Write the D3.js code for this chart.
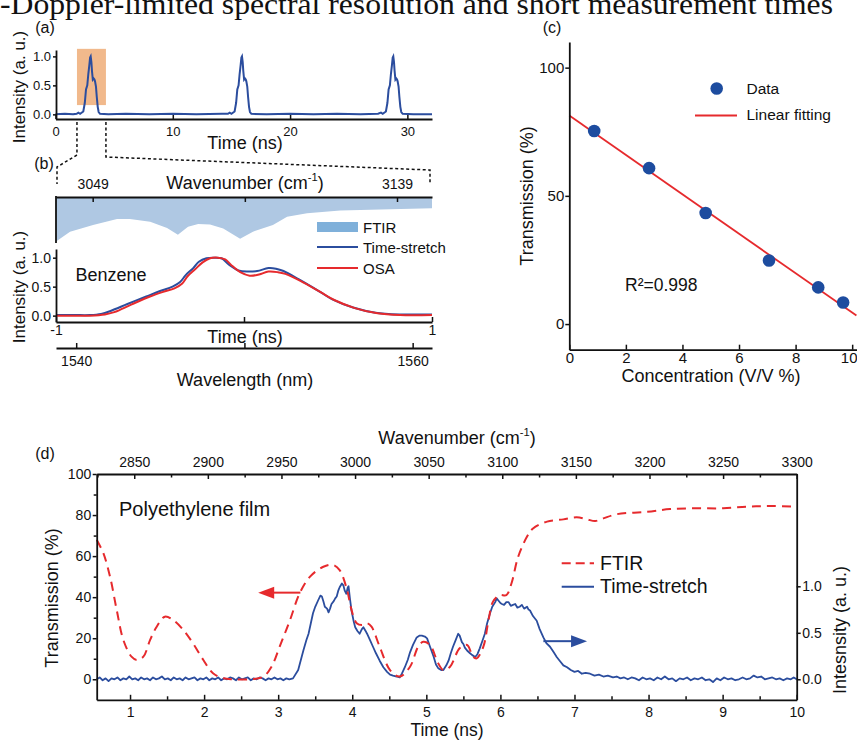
<!DOCTYPE html>
<html>
<head>
<meta charset="utf-8">
<script src="https://cdn.jsdelivr.net/npm/d3@7"></script>
<style>
  body { margin: 0; background: #fff; }
  svg { display: block; font-family: "Liberation Sans", Arial, sans-serif; }
</style>
</head>
<body>
<svg id="fig" width="857" height="740"></svg>
<script>
// ---------------- data ----------------
// (a) pulse train: [time (ns), intensity]
const pulseTrain = [
  [0,0.0],[0.8,0.01],[1.5,0.0],[1.8,0.01],[1.95,0.03],[2.1,0.01],[2.37,0.05],[2.5,0.2],[2.6,0.43],
  [2.71,0.5],[2.8,0.7],[2.88,0.84],[2.95,0.98],[3.0,1.0],[3.06,0.9],[3.11,0.75],[3.18,0.6],[3.25,0.62],
  [3.32,0.6],[3.37,0.57],[3.45,0.48],[3.52,0.3],[3.6,0.13],[3.68,0.04],[3.8,0.01],[4.5,0.0],[6,0.01],
  [8,0.0],[10,0.01],[12,0.0],[14.2,0.01],[14.7,0.01],[14.85,0.03],[15.0,0.01],[15.27,0.05],[15.4,0.2],
  [15.5,0.43],[15.61,0.5],[15.7,0.7],[15.78,0.84],[15.85,0.98],[15.9,1.0],[15.96,0.9],[16.01,0.75],
  [16.08,0.6],[16.15,0.62],[16.22,0.6],[16.27,0.57],[16.35,0.48],[16.42,0.3],[16.5,0.13],[16.58,0.04],
  [16.7,0.01],[18,0.0],[20,0.01],[22,0.0],[24,0.01],[26,0.0],[27.5,0.01],[27.75,0.03],[27.9,0.01],
  [28.17,0.05],[28.3,0.2],[28.4,0.43],[28.51,0.5],[28.6,0.7],[28.68,0.84],[28.75,0.98],[28.8,1.0],
  [28.86,0.9],[28.91,0.75],[28.98,0.6],[29.05,0.62],[29.12,0.6],[29.17,0.57],[29.25,0.48],[29.32,0.3],
  [29.4,0.13],[29.48,0.04],[29.6,0.01],[30.5,0.0],[32.1,0.0]
];
const zoomWindow = [1.83, 4.3];          // ns, highlighted pulse window
const zoomLevels = [0.16, 1.13];         // intensity extent of the highlight

// (b) FTIR absorption band of benzene: [wavenumber (cm-1), level]
const benzeneFTIR = [
  [3038.15,0.01],[3042.3,0.23],[3049.1,0.38],[3056.2,0.51],[3060.0,0.51],[3066.0,0.45],[3071.0,0.31],
  [3074.2,0.16],[3077.2,0.34],[3080.2,0.40],[3083.7,0.39],[3087.6,0.30],[3092.6,0.07],[3096.4,0.23],
  [3102.3,0.38],[3106.5,0.56],[3112.4,0.64],[3122.2,0.70],[3137.0,0.73],[3149.35,0.75]
];
const wavenumberTicksB = [3049, 3094, 3139];
const wavelengthTicksB = [1540, 1550, 1560];

// (b) benzene spectra: [time (ns), intensity]
const benzeneTimeStretch = [
  [-1,0.01],[-0.9,0.01],[-0.82,0.01],[-0.76,0.03],[-0.71,0.08],[-0.62,0.2],[-0.52,0.33],[-0.45,0.42],
  [-0.38,0.5],[-0.34,0.58],[-0.31,0.7],[-0.27,0.82],[-0.24,0.93],[-0.2,0.99],[-0.16,1.0],[-0.12,0.99],
  [-0.08,0.88],[-0.03,0.78],[0.02,0.76],[0.07,0.77],[0.13,0.82],[0.17,0.81],[0.21,0.77],[0.29,0.63],
  [0.4,0.42],[0.47,0.28],[0.58,0.14],[0.7,0.05],[0.83,0.02],[0.92,0.02],[1,0.02]
];
const benzeneOSA = [
  [-1,0.0],[-0.82,0.0],[-0.74,0.02],[-0.69,0.06],[-0.6,0.19],[-0.5,0.33],[-0.43,0.41],[-0.37,0.47],
  [-0.33,0.55],[-0.3,0.68],[-0.26,0.8],[-0.22,0.92],[-0.18,0.99],[-0.14,1.0],[-0.1,0.97],[-0.07,0.88],
  [-0.02,0.75],[0.03,0.69],[0.08,0.71],[0.13,0.76],[0.18,0.75],[0.22,0.72],[0.3,0.6],[0.41,0.4],
  [0.48,0.27],[0.59,0.13],[0.71,0.04],[0.83,0.01],[1,0.01]
];

// (c) transmission vs. concentration
const concentration = [0.88, 2.82, 4.82, 7.06, 8.80, 9.68];
const transmission  = [75.3, 60.8, 43.3, 24.8, 14.3, 8.4];
const fitConcentration = [0, 10.15];
const fitTransmission  = [81.3, 3.3];

// (d) polyethylene film: FTIR transmission [time (ns), %]
const polyFTIR = [
  [0.55,68],[0.64,61.4],[0.73,50],[0.82,33.8],[0.91,19.1],[1.02,11],[1.09,9.4],[1.18,11],[1.27,19.1],
  [1.36,25.6],[1.47,30.5],[1.58,28.9],[1.72,24],[1.85,17.5],[1.99,9.4],[2.12,2.9],[2.26,0.5],[2.39,0],
  [2.62,0],[2.8,1.3],[2.91,6.1],[3.02,15.9],[3.16,28.9],[3.29,41.9],[3.43,50],[3.61,54.8],[3.74,55.7],
  [3.83,53.2],[3.93,43.5],[3.99,33.8],[4.06,27.3],[4.13,26.4],[4.2,27.3],[4.26,25.6],[4.37,15.9],
  [4.51,4.5],[4.64,1.3],[4.78,6.1],[4.89,15.9],[4.96,18.3],[5.05,16.7],[5.16,7.8],[5.23,4.5],[5.32,6.1],
  [5.45,15.1],[5.55,16.7],[5.63,11],[5.68,10.2],[5.77,15.9],[5.84,28.9],[5.9,37.8],[5.99,41],[6.08,41],
  [6.15,46.8],[6.24,59.7],[6.36,69.5],[6.44,73.5],[6.63,76.8],[6.85,77.9],[7.03,78.9],[7.17,77.9],
  [7.28,77.1],[7.39,78.4],[7.57,80.4],[7.98,81.6],[8.29,82.9],[8.65,83.3],[9.01,83.3],[9.33,84.1],
  [9.64,84.4],[10.0,84.1]
];

// (d) polyethylene film: time-stretch intensity [time (ns), a.u.]
const polyTimeStretch = [
  [0.55,0.0],[0.59,0.02],[0.63,-0.01],[0.67,0.01],[0.71,-0.02],[0.75,0.01],[0.79,0.0],[0.83,0.02],
  [0.87,-0.01],[0.91,0.01],[0.95,0.0],[0.99,0.03],[1.03,0.0],[1.07,0.01],[1.11,-0.01],[1.15,0.02],
  [1.19,0.0],[1.23,0.01],[1.27,-0.01],[1.31,0.02],[1.35,0.0],[1.39,0.01],[1.43,0.03],[1.47,0.0],
  [1.51,0.01],[1.55,-0.01],[1.59,0.02],[1.63,0.0],[1.67,0.01],[1.71,-0.01],[1.75,0.02],[1.79,0.0],
  [1.83,0.01],[1.87,0.02],[1.91,-0.01],[1.95,0.01],[1.99,0.0],[2.03,0.02],[2.07,-0.01],[2.11,0.01],
  [2.15,0.0],[2.19,0.02],[2.23,-0.01],[2.27,0.01],[2.31,0.0],[2.35,0.02],[2.39,0.01],[2.43,-0.01],
  [2.47,0.02],[2.51,0.0],[2.55,0.01],[2.59,0.02],[2.63,-0.01],[2.67,0.01],[2.71,0.0],[2.75,0.02],
  [2.79,0.01],[2.83,-0.01],[2.87,0.01],[2.91,0.0],[2.95,0.02],[2.99,0.0],[3.03,0.01],[3.07,-0.01],
  [3.11,0.01],[3.15,0.0],[3.2,0.01],[3.27,0.10],[3.34,0.31],[3.38,0.42],[3.41,0.49],[3.44,0.6],
  [3.47,0.71],[3.5,0.78],[3.54,0.85],[3.57,0.9],[3.59,0.89],[3.61,0.84],[3.63,0.78],[3.66,0.76],
  [3.68,0.72],[3.7,0.76],[3.72,0.81],[3.75,0.84],[3.77,0.87],[3.79,0.89],[3.81,0.95],[3.83,0.99],
  [3.86,1.03],[3.88,1.01],[3.9,0.95],[3.92,0.92],[3.94,0.99],[3.95,1.0],[3.97,0.86],[3.99,0.74],
  [4.02,0.62],[4.04,0.56],[4.07,0.52],[4.1,0.49],[4.13,0.54],[4.15,0.56],[4.18,0.52],[4.2,0.49],
  [4.24,0.42],[4.28,0.35],[4.32,0.28],[4.37,0.2],[4.42,0.13],[4.47,0.08],[4.51,0.05],[4.55,0.04],
  [4.6,0.03],[4.64,0.02],[4.67,0.06],[4.71,0.13],[4.75,0.21],[4.78,0.29],[4.82,0.37],[4.87,0.45],
  [4.91,0.47],[4.94,0.47],[4.98,0.46],[5.01,0.44],[5.05,0.35],[5.1,0.24],[5.13,0.16],[5.16,0.12],
  [5.2,0.1],[5.23,0.1],[5.27,0.15],[5.3,0.2],[5.33,0.28],[5.36,0.35],[5.4,0.43],[5.43,0.49],
  [5.45,0.47],[5.48,0.4],[5.5,0.38],[5.52,0.34],[5.55,0.31],[5.59,0.28],[5.62,0.26],[5.66,0.24],
  [5.69,0.27],[5.72,0.33],[5.76,0.42],[5.79,0.49],[5.82,0.6],[5.86,0.71],[5.89,0.78],[5.93,0.83],
  [5.95,0.87],[5.97,0.85],[6.0,0.82],[6.02,0.81],[6.05,0.8],[6.08,0.83],[6.11,0.83],[6.14,0.79],
  [6.17,0.8],[6.2,0.81],[6.23,0.77],[6.26,0.78],[6.29,0.8],[6.32,0.76],[6.36,0.78],[6.38,0.75],
  [6.4,0.74],[6.44,0.68],[6.49,0.63],[6.53,0.54],[6.58,0.45],[6.62,0.39],[6.67,0.35],[6.72,0.29],
  [6.76,0.24],[6.8,0.2],[6.85,0.15],[6.9,0.13],[6.95,0.1],[7.0,0.08],[7.05,0.09],[7.1,0.06],
  [7.15,0.07],[7.21,0.06],[7.27,0.04],[7.33,0.05],[7.39,0.03],[7.45,0.04],[7.52,0.02],[7.57,0.03],
  [7.62,0.01],[7.67,0.02],[7.72,0.0],[7.77,0.02],[7.82,0.01],[7.87,-0.01],[7.92,0.02],[7.97,0.0],
  [8.02,0.01],[8.07,-0.01],[8.12,0.02],[8.17,0.0],[8.22,0.03],[8.27,0.0],[8.32,0.01],[8.37,-0.02],
  [8.42,0.01],[8.47,0.0],[8.52,0.02],[8.57,-0.01],[8.62,0.01],[8.67,0.0],[8.72,0.02],[8.77,-0.01],
  [8.82,0.0],[8.87,-0.03],[8.92,0.01],[8.97,-0.01],[9.02,0.02],[9.07,0.0],[9.12,0.01],[9.17,-0.01],
  [9.22,0.0],[9.27,0.02],[9.32,0.0],[9.37,0.01],[9.42,0.04],[9.47,0.02],[9.52,0.03],[9.57,0.0],
  [9.62,0.01],[9.67,0.02],[9.72,0.0],[9.77,0.01],[9.82,-0.01],[9.87,0.01],[9.92,0.0],[9.96,0.02],
  [10.0,0.0]
];
const timeTicksD = [1,2,3,4,5,6,7,8,9,10];
const wavenumberTicksD = [2850,2900,2950,3000,3050,3100,3150,3200,3250,3300];
const transmissionTicksD = [0,20,40,60,80,100];
const intensityTicksD = [0,0.5,1.0];

// ---------------- drawing ----------------
const BLUE = "#2b4d9e", RED = "#e62a2d", AXIS_W = 1.8;
const svg = d3.select("#fig");
svg.append("rect").attr("width", 857).attr("height", 740).attr("fill", "#fff");

function styleAxis(g, size) {
  g.selectAll(".domain").attr("stroke", "#111").attr("stroke-width", AXIS_W);
  g.selectAll(".tick line").attr("stroke", "#111").attr("stroke-width", 1.5);
  g.selectAll(".tick text").attr("fill", "#111").attr("font-size", size)
    .attr("font-family", "'Liberation Sans', Arial, sans-serif");
  return g;
}
function label(txt, x, y, size, opts = {}) {
  const t = svg.append("text").attr("x", x).attr("y", y).attr("font-size", size)
    .attr("fill", "#111").attr("text-anchor", opts.anchor || "middle")
    .attr("dominant-baseline", "central").text(txt);
  if (opts.rotate) t.attr("transform", `rotate(${opts.rotate},${x},${y})`);
  return t;
}
function wavenumberTitle(x, y, size, rotate) {
  const t = label("", x, y, size, { rotate });
  t.append("tspan").text("Wavenumber (cm");
  t.append("tspan").attr("font-size", size * 0.62).attr("dy", -size * 0.35).text("-1");
  t.append("tspan").attr("dy", size * 0.35).text(")");
  return t;
}

// Header line
svg.append("text").attr("x", 0).attr("y", 14)
  .attr("font-family", "'Liberation Serif', 'Times New Roman', serif")
  .attr("font-size", 30).attr("fill", "#111")
  .attr("textLength", 833).attr("lengthAdjust", "spacingAndGlyphs")
  .text("-Doppler-limited spectral resolution and short measurement times");

// ===== (a) pulse train =====
const xA = d3.scaleLinear().domain([0, 32.1]).range([55.5, 432]);
const yA = d3.scaleLinear().domain([-0.08, 1.11]).range([119, 50]);
label("(a)", 45, 27, 16);

svg.append("rect")
  .attr("x", xA(zoomWindow[0])).attr("width", xA(zoomWindow[1]) - xA(zoomWindow[0]))
  .attr("y", yA(zoomLevels[1])).attr("height", yA(zoomLevels[0]) - yA(zoomLevels[1]))
  .attr("fill", "#f1b98c");

svg.append("path").datum(pulseTrain)
  .attr("fill", "none").attr("stroke", BLUE).attr("stroke-width", 2)
  .attr("d", d3.line().x(d => xA(d[0])).y(d => yA(d[1])));

styleAxis(svg.append("g").attr("transform", "translate(0,119)")
  .call(d3.axisBottom(xA).tickValues([0,10,20,30]).tickSize(-4).tickSizeOuter(0).tickPadding(8)), 13);
styleAxis(svg.append("g").attr("transform", "translate(56,0)")
  .call(d3.axisLeft(yA).tickValues([0,0.5,1]).tickFormat(d3.format(".1f")).tickSize(3).tickSizeOuter(0).tickPadding(2)), 13);
label("Time (ns)", 245, 143, 18);
label("Intensity (a. u.)", 19, 87, 17, { rotate: -90 });

// zoom connectors from (a) to (b)
const connector = d3.line();
const dash = g => g.attr("fill", "none").attr("stroke", "#111").attr("stroke-width", 1.5).attr("stroke-dasharray", "3,2.5");
svg.append("path").call(dash).attr("d", connector([[xA(zoomWindow[0]), 122], [xA(zoomWindow[0]), 155], [57, 167], [57, 184]]));
svg.append("path").call(dash).attr("d", connector([[xA(zoomWindow[1]), 122], [xA(zoomWindow[1]), 157], [430, 170], [430, 184]]));

// ===== (b) benzene =====
label("(b)", 44, 163, 16);
const xBw = d3.scaleLinear().domain([3038.15, 3149.35]).range([56, 432]);
const yBand = d3.scaleLinear().domain([0, 1]).range([242, 197]);
svg.append("path").datum(benzeneFTIR)
  .attr("fill", "#afc8e3")
  .attr("d", d3.area().x(d => xBw(d[0])).y0(yBand(1)).y1(d => yBand(d[1])));
styleAxis(svg.append("g").attr("transform", "translate(0,197)")
  .call(d3.axisTop(xBw).tickValues(wavenumberTicksB).tickSize(-5).tickSizeOuter(0).tickPadding(8)
    .tickFormat(d => d === 3094 ? "" : d)), 14);
svg.append("line").attr("x1", 56).attr("x2", 56).attr("y1", 196).attr("y2", 243)
  .attr("stroke", "#111").attr("stroke-width", AXIS_W);
wavenumberTitle(245, 183, 18);

const xBt = d3.scaleLinear().domain([-1, 1]).range([56, 432]);
const yBi = d3.scaleLinear().domain([-0.11, 1.15]).range([322, 249]);
const lineB = d3.line().x(d => xBt(d[0])).y(d => yBi(d[1])).curve(d3.curveCatmullRom);
svg.append("path").datum(benzeneTimeStretch).attr("fill", "none").attr("stroke", BLUE).attr("stroke-width", 2).attr("d", lineB);
svg.append("path").datum(benzeneOSA).attr("fill", "none").attr("stroke", RED).attr("stroke-width", 2).attr("d", lineB);
styleAxis(svg.append("g").attr("transform", "translate(0,322)")
  .call(d3.axisBottom(xBt).tickValues([-1,0,1]).tickSize(-5).tickSizeOuter(0).tickPadding(3)
    .tickFormat(d => d === 0 ? "" : d)), 14);
styleAxis(svg.append("g").attr("transform", "translate(56,0)")
  .call(d3.axisLeft(yBi).tickValues([0,0.5,1]).tickFormat(d3.format(".1f")).tickSize(3).tickSizeOuter(0).tickPadding(2)), 14);
label("Benzene", 111, 275, 18);
label("Time (ns)", 245, 337, 18);
label("Intensity (a. u.)", 19, 287, 17, { rotate: -90 });

// wavelength axis under (b)
const xBl = d3.scaleLinear().domain([1538.8, 1561.15]).range([56, 432]);
styleAxis(svg.append("g").attr("transform", "translate(0,348)")
  .call(d3.axisBottom(xBl).tickValues(wavelengthTicksB).tickSize(-5).tickSizeOuter(0).tickPadding(8)
    .tickFormat(d => d === 1550 ? "" : d)), 14);
label("Wavelength (nm)", 245, 380, 18);

// legend (b)
svg.append("rect").attr("x", 317).attr("y", 222).attr("width", 41).attr("height", 10).attr("fill", "#7fb0da");
label("FTIR", 363, 227, 15, { anchor: "start" });
svg.append("line").attr("x1", 317).attr("x2", 358).attr("y1", 247).attr("y2", 247).attr("stroke", BLUE).attr("stroke-width", 2);
label("Time-stretch", 363, 247, 15, { anchor: "start" });
svg.append("line").attr("x1", 317).attr("x2", 358).attr("y1", 268).attr("y2", 268).attr("stroke", RED).attr("stroke-width", 2);
label("OSA", 363, 268, 15, { anchor: "start" });

// ===== (c) linearity =====
label("(c)", 552, 27, 16);
const xC = d3.scaleLinear().domain([0, 10.16]).range([569.3, 856.7]);
const yC = d3.scaleLinear().domain([-10, 110]).range([349.7, 42]);
svg.append("line")
  .attr("x1", xC(fitConcentration[0])).attr("y1", yC(fitTransmission[0]))
  .attr("x2", xC(fitConcentration[1])).attr("y2", yC(fitTransmission[1]))
  .attr("stroke", RED).attr("stroke-width", 1.8);
svg.append("g").selectAll("circle").data(concentration).join("circle")
  .attr("cx", d => xC(d)).attr("cy", (d, i) => yC(transmission[i])).attr("r", 6.3)
  .attr("fill", "#1d4c9f");
styleAxis(svg.append("g").attr("transform", "translate(0,349.7)")
  .call(d3.axisBottom(xC).tickValues([0,2,4,6,8,10]).tickSize(-5).tickSizeOuter(0).tickPadding(3)), 15)
  .call(g => g.selectAll(".tick text").filter(d => d === 10).attr("dx", -3.5));
styleAxis(svg.append("g").attr("transform", "translate(569.3,0)")
  .call(d3.axisLeft(yC).tickValues([0,50,100]).tickSize(4).tickSizeOuter(0).tickPadding(1)), 15);
label("Concentration (V/V %)", 711, 376, 18);
label("Transmission (%)", 527, 196, 18, { rotate: -90 });
label("R²=0.998", 625, 285, 17.5, { anchor: "start" });
svg.append("circle").attr("cx", 716.7).attr("cy", 88.5).attr("r", 6.3).attr("fill", "#1d4c9f");
label("Data", 746.5, 88, 15.5, { anchor: "start" });
svg.append("line").attr("x1", 695).attr("x2", 737).attr("y1", 115.5).attr("y2", 115.5).attr("stroke", RED).attr("stroke-width", 1.8);
label("Linear fitting", 746.5, 114, 15.5, { anchor: "start" });

// ===== (d) polyethylene film =====
label("(d)", 45, 453, 16);
const xD = d3.scaleLinear().domain([0.55, 10]).range([96.7, 796.7]);
const xDw = d3.scaleLinear().domain([2824.5, 3300]).range([96.7, 796.7]);
const yDl = d3.scaleLinear().domain([-10, 100]).range([699.8, 474]);
const yDr = d3.scaleLinear().domain([-0.2204, 2.2075]).range([699.8, 474]);

svg.append("path").datum(polyTimeStretch)
  .attr("fill", "none").attr("stroke", BLUE).attr("stroke-width", 1.8).attr("stroke-linejoin", "round")
  .attr("d", d3.line().x(d => xD(d[0])).y(d => yDr(d[1])));
svg.append("path").datum(polyFTIR)
  .attr("fill", "none").attr("stroke", RED).attr("stroke-width", 2).attr("stroke-dasharray", "9,6")
  .attr("d", d3.line().x(d => xD(d[0])).y(d => yDl(d[1])).curve(d3.curveCatmullRom));

// axes with major + minor ticks
const minor = (scale, values, size, orient, pos) => {
  const ax = orient(scale).tickValues(values).tickSize(size).tickSizeOuter(0).tickFormat("");
  return svg.append("g").attr("transform", pos).call(ax).call(g => g.select(".domain").remove())
    .call(g => g.selectAll(".tick line").attr("stroke", "#111").attr("stroke-width", 1.5));
};
styleAxis(svg.append("g").attr("transform", "translate(0,699.8)")
  .call(d3.axisBottom(xD).tickValues(timeTicksD).tickSize(-5).tickSizeOuter(0).tickPadding(7)), 14);
minor(xD, [1.5,2.5,3.5,4.5,5.5,6.5,7.5,8.5,9.5], -3.5, d3.axisBottom, "translate(0,699.8)");
styleAxis(svg.append("g").attr("transform", "translate(0,474)")
  .call(d3.axisTop(xDw).tickValues(wavenumberTicksD).tickFormat(d3.format("d"))
    .tickSize(-5).tickSizeOuter(0).tickPadding(7)), 14);
minor(xDw, [2825,2875,2925,2975,3025,3075,3125,3175,3225,3275], -3.5, d3.axisTop, "translate(0,474)");
styleAxis(svg.append("g").attr("transform", "translate(96.7,0)")
  .call(d3.axisLeft(yDl).tickValues(transmissionTicksD).tickSize(4).tickSizeOuter(0).tickPadding(1.5)), 14);
minor(yDl, [10,30,50,70,90], 3, d3.axisLeft, "translate(96.7,0)");
styleAxis(svg.append("g").attr("transform", "translate(796.7,0)")
  .call(d3.axisRight(yDr).tickValues(intensityTicksD).tickFormat(d3.format(".1f")).tickSize(4).tickSizeOuter(0).tickPadding(1.5)), 14);

wavenumberTitle(457, 438, 18);
label("Time (ns)", 447, 730, 17.5);
label("Transmission (%)", 52, 598, 18, { rotate: -90 });
label("Intesnsity (a. u.)", 840, 630, 18, { rotate: -90 });
label("Polyethylene film", 119, 509, 20, { anchor: "start" });

// direction arrows: FTIR → left axis, time-stretch → right axis
function arrow(x1, y, x2, color) {
  const dir = Math.sign(x2 - x1), head = 16;
  svg.append("line").attr("x1", x1).attr("x2", x2 - dir * head + dir * 2).attr("y1", y).attr("y2", y)
    .attr("stroke", color).attr("stroke-width", 2);
  svg.append("path").attr("fill", color)
    .attr("d", `M${x2},${y} L${x2 - dir * head},${y - 6} L${x2 - dir * head},${y + 6} Z`);
}
arrow(xD(3.3), yDl(42.2), xD(2.73), RED);
arrow(xD(6.58), yDr(0.41), xD(7.17), BLUE);

// legend (d)
svg.append("line").attr("x1", 561.7).attr("x2", 594).attr("y1", 563.3).attr("y2", 563.3)
  .attr("stroke", RED).attr("stroke-width", 2).attr("stroke-dasharray", "9,5");
label("FTIR", 600, 563, 19.5, { anchor: "start" });
svg.append("line").attr("x1", 561.7).attr("x2", 594).attr("y1", 586.7).attr("y2", 586.7)
  .attr("stroke", BLUE).attr("stroke-width", 2);
label("Time-stretch", 600, 586, 19.5, { anchor: "start" });
</script>
</body>
</html>
